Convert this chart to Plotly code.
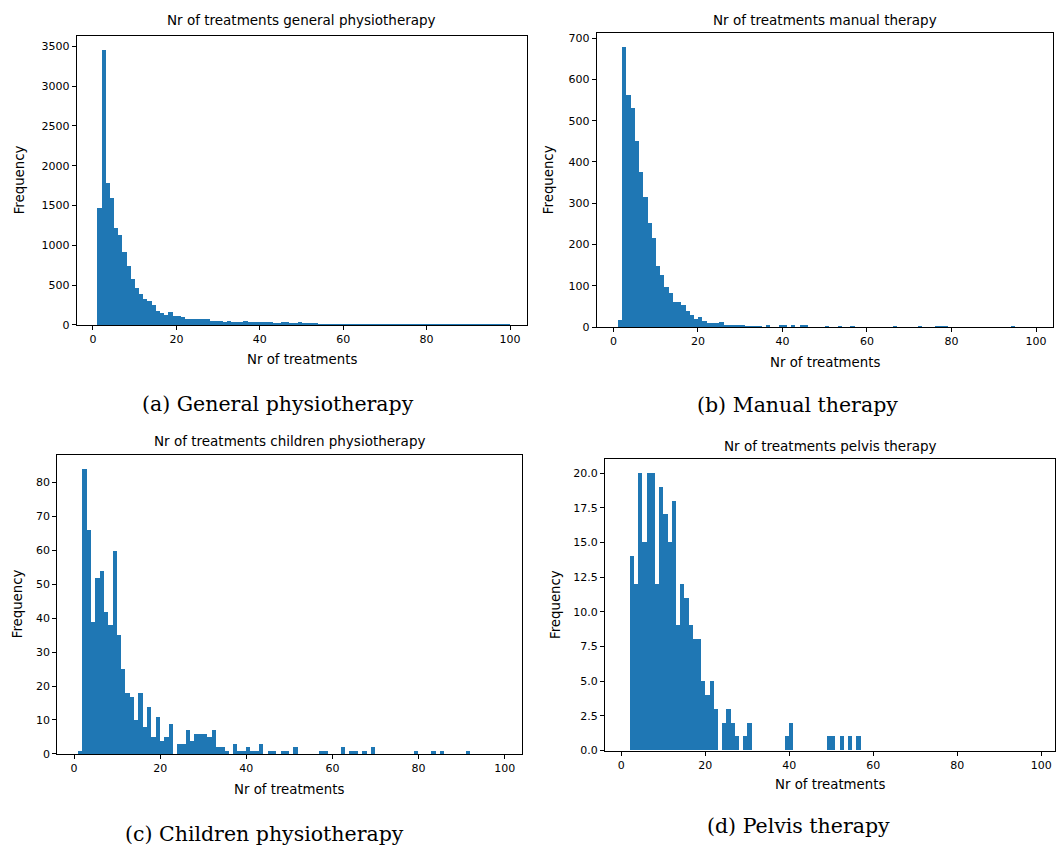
import plotly.graph_objects as go

# ---------------- data ----------------
treatments = list(range(1, 100))  # number of treatments (histogram bins of width 1)

general_counts = [
    1474, 3460, 1784, 1596, 1224, 1140, 919, 739, 585, 472,
    388, 334, 301, 251, 184, 155, 134, 167, 120, 112,
    100, 83, 79, 79, 79, 79, 79, 58, 58, 58,
    46, 58, 42, 42, 42, 54, 37, 37, 37, 37,
    42, 42, 29, 29, 37, 37, 29, 29, 37, 29,
    29, 25, 25, 21, 8, 20, 21, 20, 21, 20,
    21, 20, 20, 20, 21, 20, 8, 20, 20, 20,
    8, 20, 20, 20, 20, 20, 20, 20, 20, 8,
    15, 5, 20, 20, 20, 5, 20, 20, 5, 5,
    5, 15, 5, 20, 20, 20, 20, 15, 5,
]

manual_counts = [
    17, 678, 562, 530, 451, 376, 314, 252, 216, 148,
    125, 98, 82, 62, 60, 53, 40, 30, 20, 24,
    14, 9, 9, 9, 13, 6, 6, 6, 5, 6,
    3, 3, 3, 3, 0, 4, 0, 0, 4, 4,
    0, 4, 0, 4, 4, 0, 0, 0, 0, 3,
    0, 0, 3, 0, 0, 3, 0, 0, 0, 0,
    0, 0, 0, 0, 0, 3, 0, 0, 0, 0,
    0, 3, 0, 0, 0, 3, 3, 3, 0, 0,
    0, 0, 0, 0, 0, 0, 0, 0, 0, 0,
    0, 0, 0, 3, 0, 0, 0, 0, 0,
]

children_counts = [
    1, 84, 66, 39, 52, 54, 42, 38, 60, 35,
    25, 18, 17, 10, 18, 8, 14, 5, 11, 4,
    5, 9, 0, 3, 3, 7, 4, 6, 6, 6,
    5, 7, 2, 2, 1, 0, 3, 1, 1, 2,
    1, 1, 3, 0, 1, 1, 0, 1, 1, 0,
    2, 0, 0, 0, 0, 0, 1, 1, 0, 0,
    0, 2, 0, 1, 1, 0, 1, 0, 2, 0,
    0, 0, 0, 0, 0, 0, 0, 0, 1, 0,
    0, 0, 1, 0, 1, 0, 0, 0, 0, 0,
    1, 0, 0, 0, 0, 0, 0, 0, 0,
]

pelvis_counts = [
    0, 14, 12, 20, 15, 20, 20, 12, 19, 17,
    15, 18, 9, 12, 11, 9, 8, 8, 5, 4,
    5, 3, 0, 2, 3, 2, 1, 0, 1, 2,
    0, 0, 0, 0, 0, 0, 0, 0, 1, 2,
    0, 0, 0, 0, 0, 0, 0, 0, 1, 1,
    0, 1, 0, 1, 0, 1, 0, 0, 0, 0,
    0, 0, 0, 0, 0, 0, 0, 0, 0, 0,
    0, 0, 0, 0, 0, 0, 0, 0, 0, 0,
    0, 0, 0, 0, 0, 0, 0, 0, 0, 0,
    0, 0, 0, 0, 0, 0, 0, 0, 0,
]

titles = [
    "Nr of treatments general physiotherapy",
    "Nr of treatments manual therapy",
    "Nr of treatments children physiotherapy",
    "Nr of treatments pelvis therapy",
]
captions = [
    "(a) General physiotherapy",
    "(b) Manual therapy",
    "(c) Children physiotherapy",
    "(d) Pelvis therapy",
]
x_label = "Nr of treatments"
y_label = "Frequency"
x_ticks = [0, 20, 40, 60, 80, 100]

# ---------------- layout (pixel geometry) ----------------
W, H = 1056, 855
BLUE = "#1f77b4"
SANS = "DejaVu Sans"
SERIF = "DejaVu Serif"


def px(x):
    return x / W


def py(y):
    return 1 - y / H


panels = [
    dict(counts=general_counts, xdom=(76.7, 526.7), ydom=(35.0, 327.0), xr=(-3.9, 104.0),
         yr=(0, 3633), ydt=500, yfmt="d", title_y=19, cap=(278, 407),
         ylab_x=19, xlab_y=362),
    dict(counts=manual_counts, xdom=(596.7, 1052.7), ydom=(32.4, 329.3), xr=(-3.95, 103.95),
         yr=(0, 711.9), ydt=100, yfmt="d", title_y=19, cap=(797, 408),
         ylab_x=548, xlab_y=365),
    dict(counts=children_counts, xdom=(57.2, 521.5), ydom=(458.0, 760.0), xr=(-3.9, 103.9),
         yr=(0, 88.2), ydt=10, yfmt="d", title_y=444, cap=(264, 841),
         ylab_x=17, xlab_y=796),
    dict(counts=pelvis_counts, xdom=(605.0, 1055.0), ydom=(462.7, 756.7), xr=(-3.9, 103.3),
         yr=(0, 21.0), ydt=2.5, yfmt=".1f", title_y=449, cap=(798, 833),
         ylab_x=556, xlab_y=791),
]

fig = go.Figure()
annotations = []
layout_axes = {}

for i, (p, title, cap) in enumerate(zip(panels, titles, captions), start=1):
    sfx = "" if i == 1 else str(i)
    fig.add_trace(go.Bar(
        x=treatments, y=p["counts"], width=1, offset=0,
        marker=dict(color=BLUE, line=dict(width=0)),
        xaxis="x" + sfx, yaxis="y" + sfx, showlegend=False,
        hovertemplate="%{x}: %{y}<extra></extra>",
    ))
    axis_common = dict(
        showline=True, linecolor="black", linewidth=1, mirror=True,
        ticks="outside", ticklen=4, tickwidth=1, tickcolor="black",
        showgrid=False, zeroline=False,
        tickfont=dict(family=SANS, size=11, color="black"),
        layer="above traces",
    )
    layout_axes["xaxis" + sfx] = dict(
        axis_common, domain=[px(p["xdom"][0]), px(p["xdom"][1])],
        range=list(p["xr"]), tickmode="array", tickvals=x_ticks,
        anchor="y" + sfx,
    )
    layout_axes["yaxis" + sfx] = dict(
        axis_common, domain=[py(p["ydom"][1]), py(p["ydom"][0])],
        range=list(p["yr"]), tick0=0, dtick=p["ydt"], tickformat=p["yfmt"],
        anchor="x" + sfx,
    )
    xc = (p["xdom"][0] + p["xdom"][1]) / 2
    yc = (p["ydom"][0] + p["ydom"][1]) / 2
    annotations.append(dict(
        text=title, x=px(xc), y=py(p["title_y"]), xref="paper", yref="paper",
        xanchor="center", yanchor="middle", showarrow=False,
        font=dict(family=SANS, size=13.5, color="black"),
    ))
    annotations.append(dict(
        text=x_label, x=px(xc), y=py(p["xlab_y"]), xref="paper", yref="paper",
        xanchor="center", yanchor="middle", showarrow=False,
        font=dict(family=SANS, size=13.3, color="black"),
    ))
    annotations.append(dict(
        text=y_label, x=px(p["ylab_x"]), y=py(yc), xref="paper", yref="paper",
        xanchor="center", yanchor="middle", showarrow=False, textangle=-90,
        font=dict(family=SANS, size=13.3, color="black"),
    ))
    annotations.append(dict(
        text=cap, x=px(p["cap"][0]), y=py(p["cap"][1]),
        xref="paper", yref="paper", xanchor="center", yanchor="middle",
        showarrow=False, font=dict(family=SERIF, size=20.5, color="black"),
    ))

fig.update_layout(
    width=W, height=H,
    margin=dict(l=0, r=0, t=0, b=0),
    paper_bgcolor="white", plot_bgcolor="white",
    bargap=0, barmode="overlay",
    annotations=annotations,
    **layout_axes,
)

# remove the default 8px page margin so the figure sits at the window origin
fig.write_html(
    "out.html",
    config={"displayModeBar": False},
    post_script="document.body.style.margin='0';document.body.style.overflow='hidden';",
)
